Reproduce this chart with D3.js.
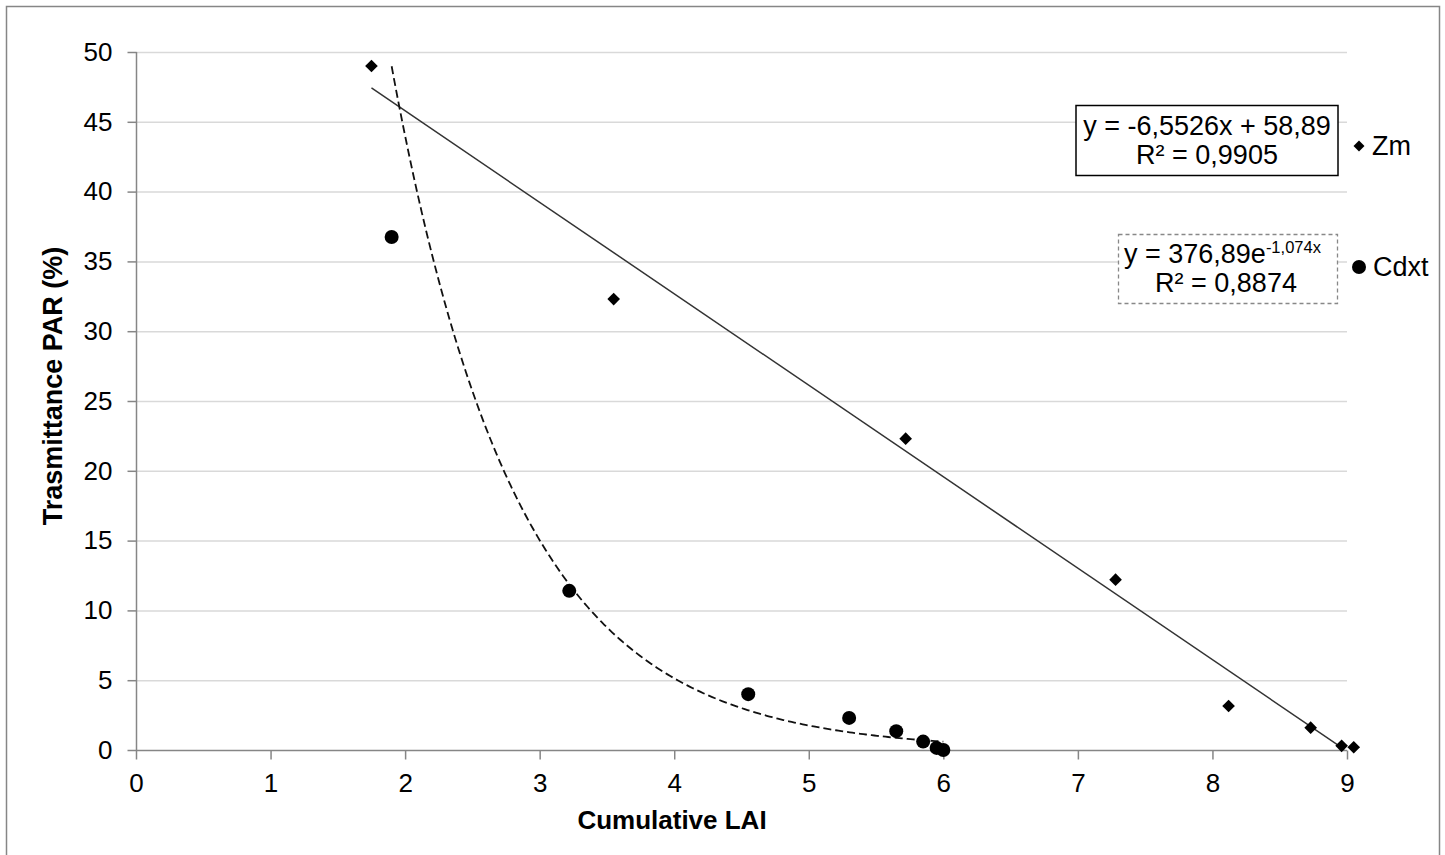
<!DOCTYPE html>
<html><head><meta charset="utf-8">
<script src="https://cdn.jsdelivr.net/npm/d3@7"></script>
<style>body{margin:0;background:#fff;} svg{display:block;font-family:"Liberation Sans",Arial,sans-serif;}</style>
</head><body>
<svg id="c" width="1445" height="855"></svg>
<script>
const zmX = [1.75, 3.55, 5.72, 7.28, 8.12, 8.73, 8.96, 9.05];
const zmY = [49.0, 32.3, 22.3, 12.2, 3.15, 1.6, 0.3, 0.2];
const cdX = [1.90, 3.22, 4.55, 5.30, 5.65, 5.85, 5.95, 6.00];
const cdY = [36.75, 11.4, 4.0, 2.3, 1.35, 0.6, 0.15, 0.0];
const xTicks = [0,1,2,3,4,5,6,7,8,9];
const yTicks = [0,5,10,15,20,25,30,35,40,45,50];
const linA = -6.5526, linB = 58.89;
const expA = 376.89, expK = -1.074;

const svg = d3.select("#c");
svg.append("rect").attr("x",6.5).attr("y",6.5).attr("width",1433).attr("height",860)
  .attr("fill","#fff").attr("stroke","#868686").attr("stroke-width",1.5);

const x = d3.scaleLinear().domain([0,9]).range([136,1347]);
const y = d3.scaleLinear().domain([0,50]).range([750,52]);

// gridlines
svg.append("g").selectAll("line").data(yTicks.filter(d=>d>0)).join("line")
  .attr("x1",136).attr("x2",1347).attr("y1",d=>y(d)+0.5).attr("y2",d=>y(d)+0.5)
  .attr("stroke","#d9d9d9").attr("stroke-width",1.5);

const yAx = svg.append("g").attr("transform","translate(136.5,0)")
  .call(d3.axisLeft(y).tickValues(yTicks).tickSize(9).tickPadding(15).tickFormat(d3.format("d")));
const xAx = svg.append("g").attr("transform","translate(0,750.5)")
  .call(d3.axisBottom(x).tickValues(xTicks).tickSize(9).tickPadding(14).tickFormat(d3.format("d")));
[yAx,xAx].forEach(a=>{
  a.selectAll("path,line").attr("stroke","#868686").attr("stroke-width",1.5);
  a.select(".domain").attr("d", a===yAx ? "M0,52V750" : "M136,0H1347");
  a.selectAll("text").attr("fill","#000").style("font-size","26px").style("font-family","Liberation Sans, Arial, sans-serif");
});

// trendlines
const lin = d3.line().x(d=>x(d)).y(d=>y(linA*d+linB));
svg.append("path").attr("d",lin([d3.min(zmX), 8.98])).attr("stroke","#333").attr("stroke-width",1.5).attr("fill","none");
const xs = d3.range(0,201).map(i=>d3.min(cdX)+(d3.max(cdX)-d3.min(cdX))*i/200);
const ex = d3.line().x(d=>x(d)).y(d=>y(expA*Math.exp(expK*d)));
svg.append("path").attr("d",ex(xs)).attr("stroke","#111").attr("stroke-width",1.8)
  .attr("stroke-dasharray","8,4").attr("fill","none");

// points
svg.append("g").selectAll("path").data(zmX.map((v,i)=>[v,zmY[i]])).join("path")
  .attr("d",d3.symbol().type(d3.symbolSquare).size(80)).attr("transform",d=>`translate(${x(d[0])},${y(d[1])}) rotate(45)`).attr("fill","#000");
svg.append("g").selectAll("circle").data(cdX.map((v,i)=>[v,cdY[i]])).join("circle")
  .attr("cx",d=>x(d[0])).attr("cy",d=>y(d[1])).attr("r",7).attr("fill","#000");

// equation boxes
svg.append("rect").attr("x",1076).attr("y",105.5).attr("width",262).attr("height",70).attr("fill","#fff").attr("stroke","#000").attr("stroke-width",1.5);
svg.append("text").attr("x",1207).attr("y",135).attr("text-anchor","middle").style("font-size","27px").text("y = -6,5526x + 58,89");
svg.append("text").attr("x",1207).attr("y",164).attr("text-anchor","middle").style("font-size","27px").text("R² = 0,9905");

svg.append("rect").attr("x",1118.5).attr("y",234.5).attr("width",219).attr("height",69).attr("fill","#fff").attr("stroke","#888").attr("stroke-width",1.3).attr("stroke-dasharray","4,3");
const t1 = svg.append("text").attr("x",1124).attr("y",263).style("font-size","27px");
t1.append("tspan").text("y = 376,89e");
t1.append("tspan").attr("dy",-10).style("font-size","16.5px").text("-1,074x");
svg.append("text").attr("x",1226).attr("y",292).attr("text-anchor","middle").style("font-size","27px").text("R² = 0,8874");

// legend
svg.append("path").attr("d",d3.symbol().type(d3.symbolSquare).size(60)).attr("transform","translate(1359,146) rotate(45)").attr("fill","#000");
svg.append("text").attr("x",1372).attr("y",155).style("font-size","27px").text("Zm");
svg.append("circle").attr("cx",1359).attr("cy",267).attr("r",7).attr("fill","#000");
svg.append("text").attr("x",1373).attr("y",276).style("font-size","27px").text("Cdxt");

// axis titles
svg.append("text").attr("x",672).attr("y",829).attr("text-anchor","middle").style("font-size","26px").style("font-weight","bold").text("Cumulative LAI");
svg.append("text").attr("transform","translate(62,386) rotate(-90)").attr("text-anchor","middle").style("font-size","27px").style("font-weight","bold").text("Trasmittance PAR (%)");
</script>
</body></html>
